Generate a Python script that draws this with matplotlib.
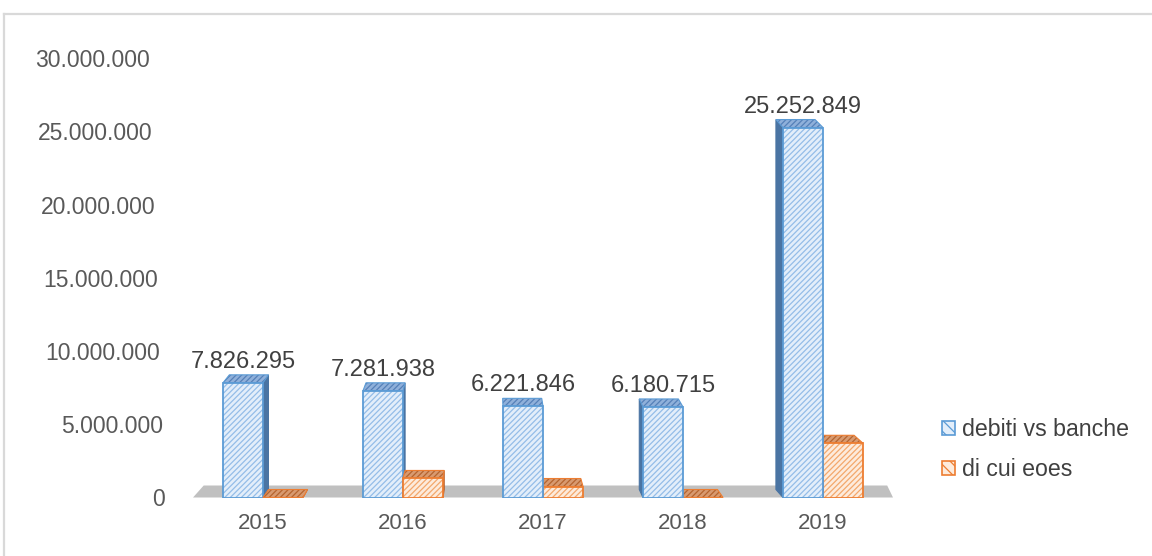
import matplotlib
matplotlib.use("Agg")
import matplotlib.pyplot as plt
import matplotlib.transforms as mtransforms
from matplotlib.patches import Polygon, Patch
from matplotlib.lines import Line2D
from matplotlib.ticker import FuncFormatter

# ---- data -------------------------------------------------------------
years = ["2015", "2016", "2017", "2018", "2019"]
debiti_vs_banche = [7826295, 7281938, 6221846, 6180715, 25252849]
di_cui_eoes = [0, 1300000, 750000, 0, 3700000]
series_names = ["debiti vs banche", "di cui eoes"]
y_ticks = [0, 5000000, 10000000, 15000000, 20000000, 25000000, 30000000]


def fmt_it(v):
    """Italian thousands separator."""
    return f"{int(round(v)):,}".replace(",", ".")


plt.rcParams["font.family"] = ["Liberation Sans", "DejaVu Sans"]
plt.rcParams["hatch.linewidth"] = 0.9

W, H, DPI = 1152, 556, 100
fig = plt.figure(figsize=(W / DPI, H / DPI), dpi=DPI)
fig.patch.set_facecolor("white")

# outer chart frame (left and top edges)
frame_c = "#d9d9d9"
fig.add_artist(Line2D([4 / W, 4 / W], [0, (H - 14) / H], color=frame_c, lw=1.6))
fig.add_artist(Line2D([4 / W, 1], [(H - 14) / H, (H - 14) / H], color=frame_c, lw=1.6))

ax = fig.add_axes([193 / W, (H - 497.5) / H, 700 / W, 439.5 / H])
ax.set_xlim(-0.5, len(years) - 0.5)
ax.set_ylim(0, 30000000)
for s in ax.spines.values():
    s.set_visible(False)
ax.patch.set_alpha(0)

# 3D look: depth offsets in pixels, perspective toward a vanishing x
VPX = 490.0
K = 0.024
DEPTH_BAR = 8.0
DEPTH_FLOOR = 12.0
ident = mtransforms.IdentityTransform()
to_px = ax.transData.transform

styles = {
    0: dict(front="#e3eefa", front_hatch="#94bde8", edge="#5b9bd5",
            top="#8fb0da", top_hatch="#5580b8", side="#4a74a3"),
    1: dict(front="#fdebdc", front_hatch="#f3a86c", edge="#ed7d31",
            top="#d89a70", top_hatch="#b5642f", side="#b85a22"),
}


def hatched_poly(pts, face, hatch_c, edge, z, lw=1.0):
    ax.add_patch(Polygon(pts, closed=True, facecolor=face, edgecolor=hatch_c,
                         hatch="//////", lw=0, transform=ident, zorder=z))
    ax.add_patch(Polygon(pts, closed=True, fill=False, edgecolor=edge,
                         lw=lw, transform=ident, zorder=z + 0.01))


# floor
(fx0, fy0) = to_px((-0.5, 0))
(fx1, _) = to_px((len(years) - 0.5, 0))
floor = [(fx0, fy0), (fx1, fy0),
         (fx1 + K * (VPX - fx1) * 0.6, fy0 + DEPTH_FLOOR),
         (fx0 + K * (VPX - fx0) * 1.5, fy0 + DEPTH_FLOOR)]
ax.add_patch(Polygon(floor, closed=True, facecolor="#c0c0c0", edgecolor="none",
                     transform=ident, zorder=1))

bar_w = 0.286
bars = []
for i in range(len(years)):
    bars.append((i - bar_w, debiti_vs_banche[i], 0))
    bars.append((i, di_cui_eoes[i], 1))

# draw far-from-centre bars first so nearer ones overlap their sides
order = sorted(range(len(bars)),
               key=lambda j: -abs(to_px((bars[j][0] + bar_w / 2, 0))[0] - VPX))
for rank, j in enumerate(order):
    x0, v, sidx = bars[j]
    st = styles[sidx]
    z = 5 + rank
    (X0, Yb) = to_px((x0, 0))
    (X1, Yt) = to_px((x0 + bar_w, v))
    dxl = K * (VPX - X0)
    dxr = K * (VPX - X1)
    dy = DEPTH_BAR
    if dxr > 0.6:
        side = [(X1, Yb), (X1, Yt), (X1 + dxr, Yt + dy), (X1 + dxr, Yb + dy)]
        ax.add_patch(Polygon(side, closed=True, facecolor=st["side"],
                             edgecolor=st["side"], lw=0.8, transform=ident, zorder=z))
    if dxl < -0.6:
        side = [(X0, Yb), (X0, Yt), (X0 + dxl, Yt + dy), (X0 + dxl, Yb + dy)]
        ax.add_patch(Polygon(side, closed=True, facecolor=st["side"],
                             edgecolor=st["side"], lw=0.8, transform=ident, zorder=z))
    top = [(X0, Yt), (X1, Yt), (X1 + dxr, Yt + dy), (X0 + dxl, Yt + dy)]
    hatched_poly(top, st["top"], st["top_hatch"], st["edge"], z + 0.1, lw=0.8)
    if v > 0:
        ax.bar(x0, v, width=bar_w, align="edge", color=st["front"],
               edgecolor=st["front_hatch"], hatch="//////", lw=0, zorder=z + 0.2)
        ax.bar(x0, v, width=bar_w, align="edge", fill=False,
               edgecolor=st["edge"], lw=1.3, zorder=z + 0.3)

# value labels above the blue bars
for i, v in enumerate(debiti_vs_banche):
    ax.annotate(fmt_it(v), (i - bar_w / 2, v), xytext=(0, DEPTH_BAR + 7),
                textcoords="offset pixels", ha="center", va="baseline",
                fontsize=17, color="#404040", zorder=50, annotation_clip=False)

# axes ticks
ax.set_yticks(y_ticks)
ax.yaxis.set_major_formatter(FuncFormatter(lambda v, p: fmt_it(v)))
ax.tick_params(axis="y", length=0, pad=20, labelsize=16.5, labelcolor="#595959")
ax.set_xticks(range(len(years)), years)
ax.tick_params(axis="x", length=0, pad=11, labelsize=16, labelcolor="#595959")

# labels lean slightly with the perspective of the back wall
for val, lab in zip(y_ticks, ax.get_yticklabels()):
    shift = -15.0 * val / 30000000 / DPI
    lab.set_transform(lab.get_transform()
                      + mtransforms.ScaledTranslation(shift, 0, fig.dpi_scale_trans))

# legend
handles = [
    Patch(facecolor=styles[0]["front"], edgecolor=styles[0]["edge"], hatch="\\\\\\", lw=1.2),
    Patch(facecolor=styles[1]["front"], edgecolor=styles[1]["edge"], hatch="\\\\\\", lw=1.2),
]
fig.legend(handles, series_names, loc="upper left",
           bbox_to_anchor=(942 / W, (H - 418) / H), frameon=False, fontsize=16.7,
           handlelength=0.55, handleheight=0.55, handletextpad=0.3,
           labelspacing=0.75, borderpad=0, borderaxespad=0, labelcolor="#404040")

fig.savefig("out.png", dpi=DPI, facecolor="white")
